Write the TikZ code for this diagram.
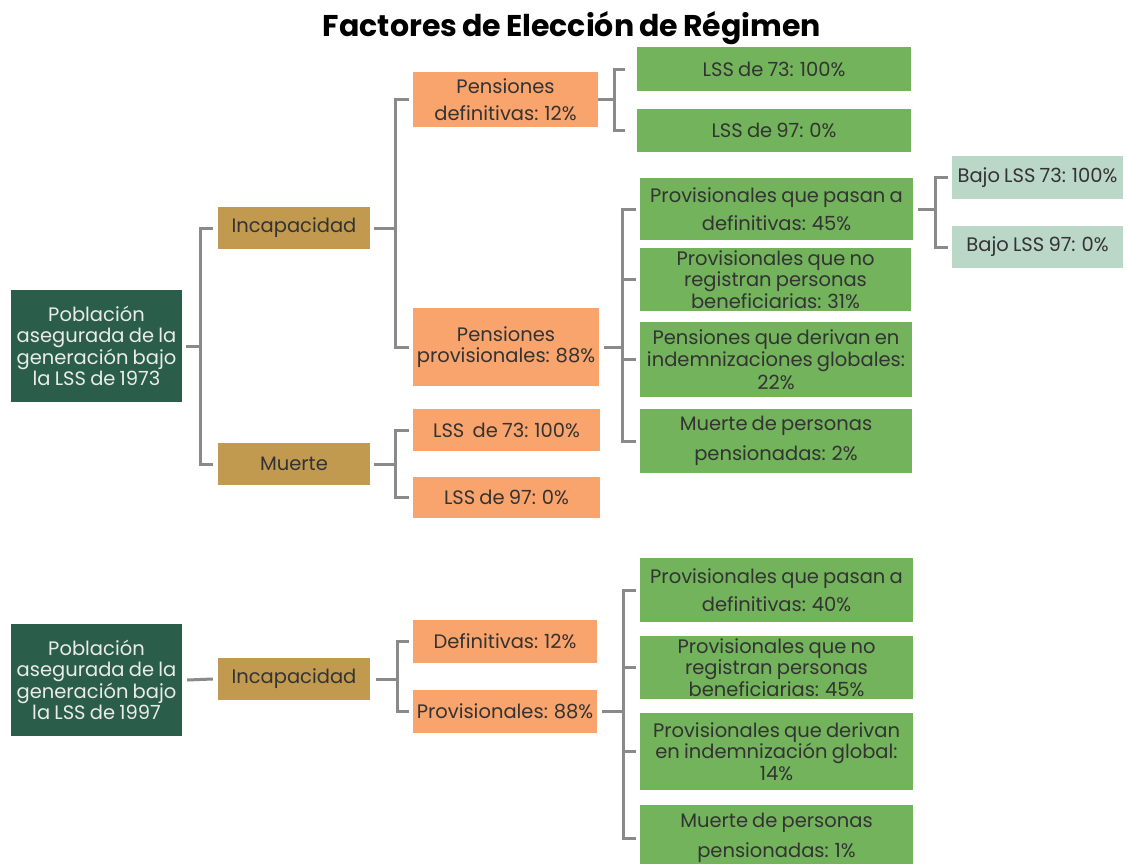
\documentclass[tikz,border=0pt]{standalone}
\usepackage{fontspec}
\setmainfont{Poppins}[WordSpace=0.8]
\definecolor{cdark}{HTML}{2A5D4A}
\definecolor{ctan}{HTML}{C19A50}
\definecolor{corange}{HTML}{F9A46C}
\definecolor{cgreen}{HTML}{72B35B}
\definecolor{cpale}{HTML}{BBD7C8}
\definecolor{cline}{HTML}{8A8A8A}
\definecolor{ctext}{HTML}{333333}
\begin{document}
\begin{tikzpicture}[x=1pt,y=-1pt,
  base/.style={inner sep=0pt, align=center, text=ctext,
    font=\fontsize{19.5}{21.5}\selectfont},
  rootbox/.style={base, fill=cdark, text=white!92!black},
  tanbox/.style={base, fill=ctan},
  orbox/.style={base, fill=corange},
  grbox/.style={base, fill=cgreen},
  palebox/.style={base, fill=cpale},
  conn/.style={draw=cline, line width=3pt},
  sz/.style 2 args={minimum width=#1pt, minimum height=#2pt}
]
\useasboundingbox (0,0) rectangle (1128,863);
\fill[white] (0,0) rectangle (1128,863);

\node[font=\bfseries\fontsize{30}{34}\selectfont] (title) at (572,28) {Factores de Elección de Régimen};

% top tree
\node[rootbox, sz={171}{112}] (r1) at (96.5,346) {Población\\asegurada de la\\generación bajo\\la LSS de 1973};
\node[tanbox, sz={152}{42}] (inc1) at (294,228) {Incapacidad};
\node[tanbox, sz={152}{42}] (mu1) at (294,464) {Muerte};
\node[orbox, sz={185}{55}] (pd) at (505.5,99.5) {Pensiones\\[6pt]definitivas: 12\%};
\node[orbox, sz={186}{78}] (pp) at (506,347) {Pensiones\\provisionales: 88\%};
\node[orbox, sz={187}{42}] (m73) at (506.5,430) {LSS~ de 73: 100\%};
\node[orbox, sz={187}{41}] (m97) at (506.5,497.5) {LSS de 97: 0\%};
\node[grbox, sz={274}{44}] (g73) at (774,69) {LSS de 73: 100\%};
\node[grbox, sz={274}{43}] (g97) at (774,130.5) {LSS de 97: 0\%};
\node[grbox, sz={273}{62}] (gp1) at (776.5,209) {Provisionales que pasan a\\[6pt]definitivas: 45\%};
\node[grbox, sz={271}{63}] (gp2) at (775.5,279.5) {Provisionales que no\\registran personas\\beneficiarias: 31\%};
\node[grbox, sz={272}{75}] (gp3) at (776,359.5) {Pensiones que derivan en\\[1pt]indemnizaciones globales:\\[1pt]22\%};
\node[grbox, sz={272}{64}] (gp4) at (776,441) {Muerte de personas\\[8pt]pensionadas: 2\%};
\node[palebox, sz={171}{43}] (b73) at (1037.5,177.5) {Bajo LSS 73: 100\%};
\node[palebox, sz={171}{42}] (b97) at (1037.5,247) {Bajo LSS 97: 0\%};

% bottom tree
\node[rootbox, sz={171}{112}] (r2) at (96.5,680) {Población\\asegurada de la\\generación bajo\\la LSS de 1997};
\node[tanbox, sz={152}{42}] (inc2) at (294,679) {Incapacidad};
\node[orbox, sz={184}{43}] (d2) at (505,641.5) {Definitivas: 12\%};
\node[orbox, sz={184}{43}] (p2) at (505,711.5) {Provisionales: 88\%};
\node[grbox, sz={273}{64}] (q1) at (776.5,590) {Provisionales que pasan a\\[6pt]definitivas: 40\%};
\node[grbox, sz={273}{63}] (q2) at (776.5,667.5) {Provisionales que no\\registran personas\\beneficiarias: 45\%};
\node[grbox, sz={273}{77}] (q3) at (776.5,751.5) {Provisionales que derivan\\en indemnización global:\\14\%};
\node[grbox, sz={273}{66}] (q4) at (776.5,838) {Muerte de personas\\[8pt]pensionadas: 1\%};

% bus coordinates
\coordinate (xr1) at (200,0);
\coordinate (xinc1) at (395,0);
\coordinate (xmu1) at (395,0);
\coordinate (xpd) at (614,0);
\coordinate (xpp) at (622,0);
\coordinate (xgp1) at (935,0);
\coordinate (xinc2) at (397,0);
\coordinate (xp2) at (623,0);

% connectors top
\draw[conn] ([xshift=4pt]r1.east) -- (xr1 |- r1.east);
\draw[conn] ([xshift=-5pt]inc1.west) -| (xr1 |- r1.east) |- ([xshift=-5pt]mu1.west);
\draw[conn] ([xshift=4pt]inc1.east) -- (xinc1 |- inc1.east);
\draw[conn] ([xshift=-4pt]pd.west) -| (xinc1 |- inc1.east) |- ([xshift=-4pt]pp.west);
\draw[conn] ([xshift=4pt]mu1.east) -- (xmu1 |- mu1.east);
\draw[conn] ([xshift=-4pt]m73.west) -| (xmu1 |- mu1.east) |- ([xshift=-4pt]m97.west);
\draw[conn] ([xshift=0pt]pd.east) -- (xpd |- pd.east);
\draw[conn] ([xshift=-12pt]g73.west) -| (xpd |- pd.east) |- ([xshift=-12pt]g97.west);
\draw[conn] ([xshift=5pt]pp.east) -- (xpp |- pp.east);
\draw[conn] ([xshift=-4pt]gp1.west) -| (xpp |- pp.east) |- ([xshift=-4pt]gp4.west);
\draw[conn] ([xshift=-4pt]gp2.west) -- (xpp |- gp2.west);
\draw[conn] ([xshift=-4pt]gp3.west) -- (xpp |- gp3.west);
\draw[conn] ([xshift=5pt]gp1.east) -- (xgp1 |- gp1.east);
\draw[conn] ([xshift=-4pt]b73.west) -| (xgp1 |- gp1.east) |- ([xshift=-4pt]b97.west);

% connectors bottom
\draw[conn] ([xshift=5pt]r2.east) -- ([xshift=-5pt]inc2.west);
\draw[conn] ([xshift=6pt]inc2.east) -- (xinc2 |- inc2.east);
\draw[conn] ([xshift=-4pt]d2.west) -| (xinc2 |- inc2.east) |- ([xshift=-4pt]p2.west);
\draw[conn] ([xshift=5pt]p2.east) -- (xp2 |- p2.east);
\draw[conn] ([xshift=-4pt]q1.west) -| (xp2 |- p2.east) |- ([xshift=-4pt]q4.west);
\draw[conn] ([xshift=-4pt]q2.west) -- (xp2 |- q2.west);
\draw[conn] ([xshift=-4pt]q3.west) -- (xp2 |- q3.west);
\end{tikzpicture}
\end{document}
